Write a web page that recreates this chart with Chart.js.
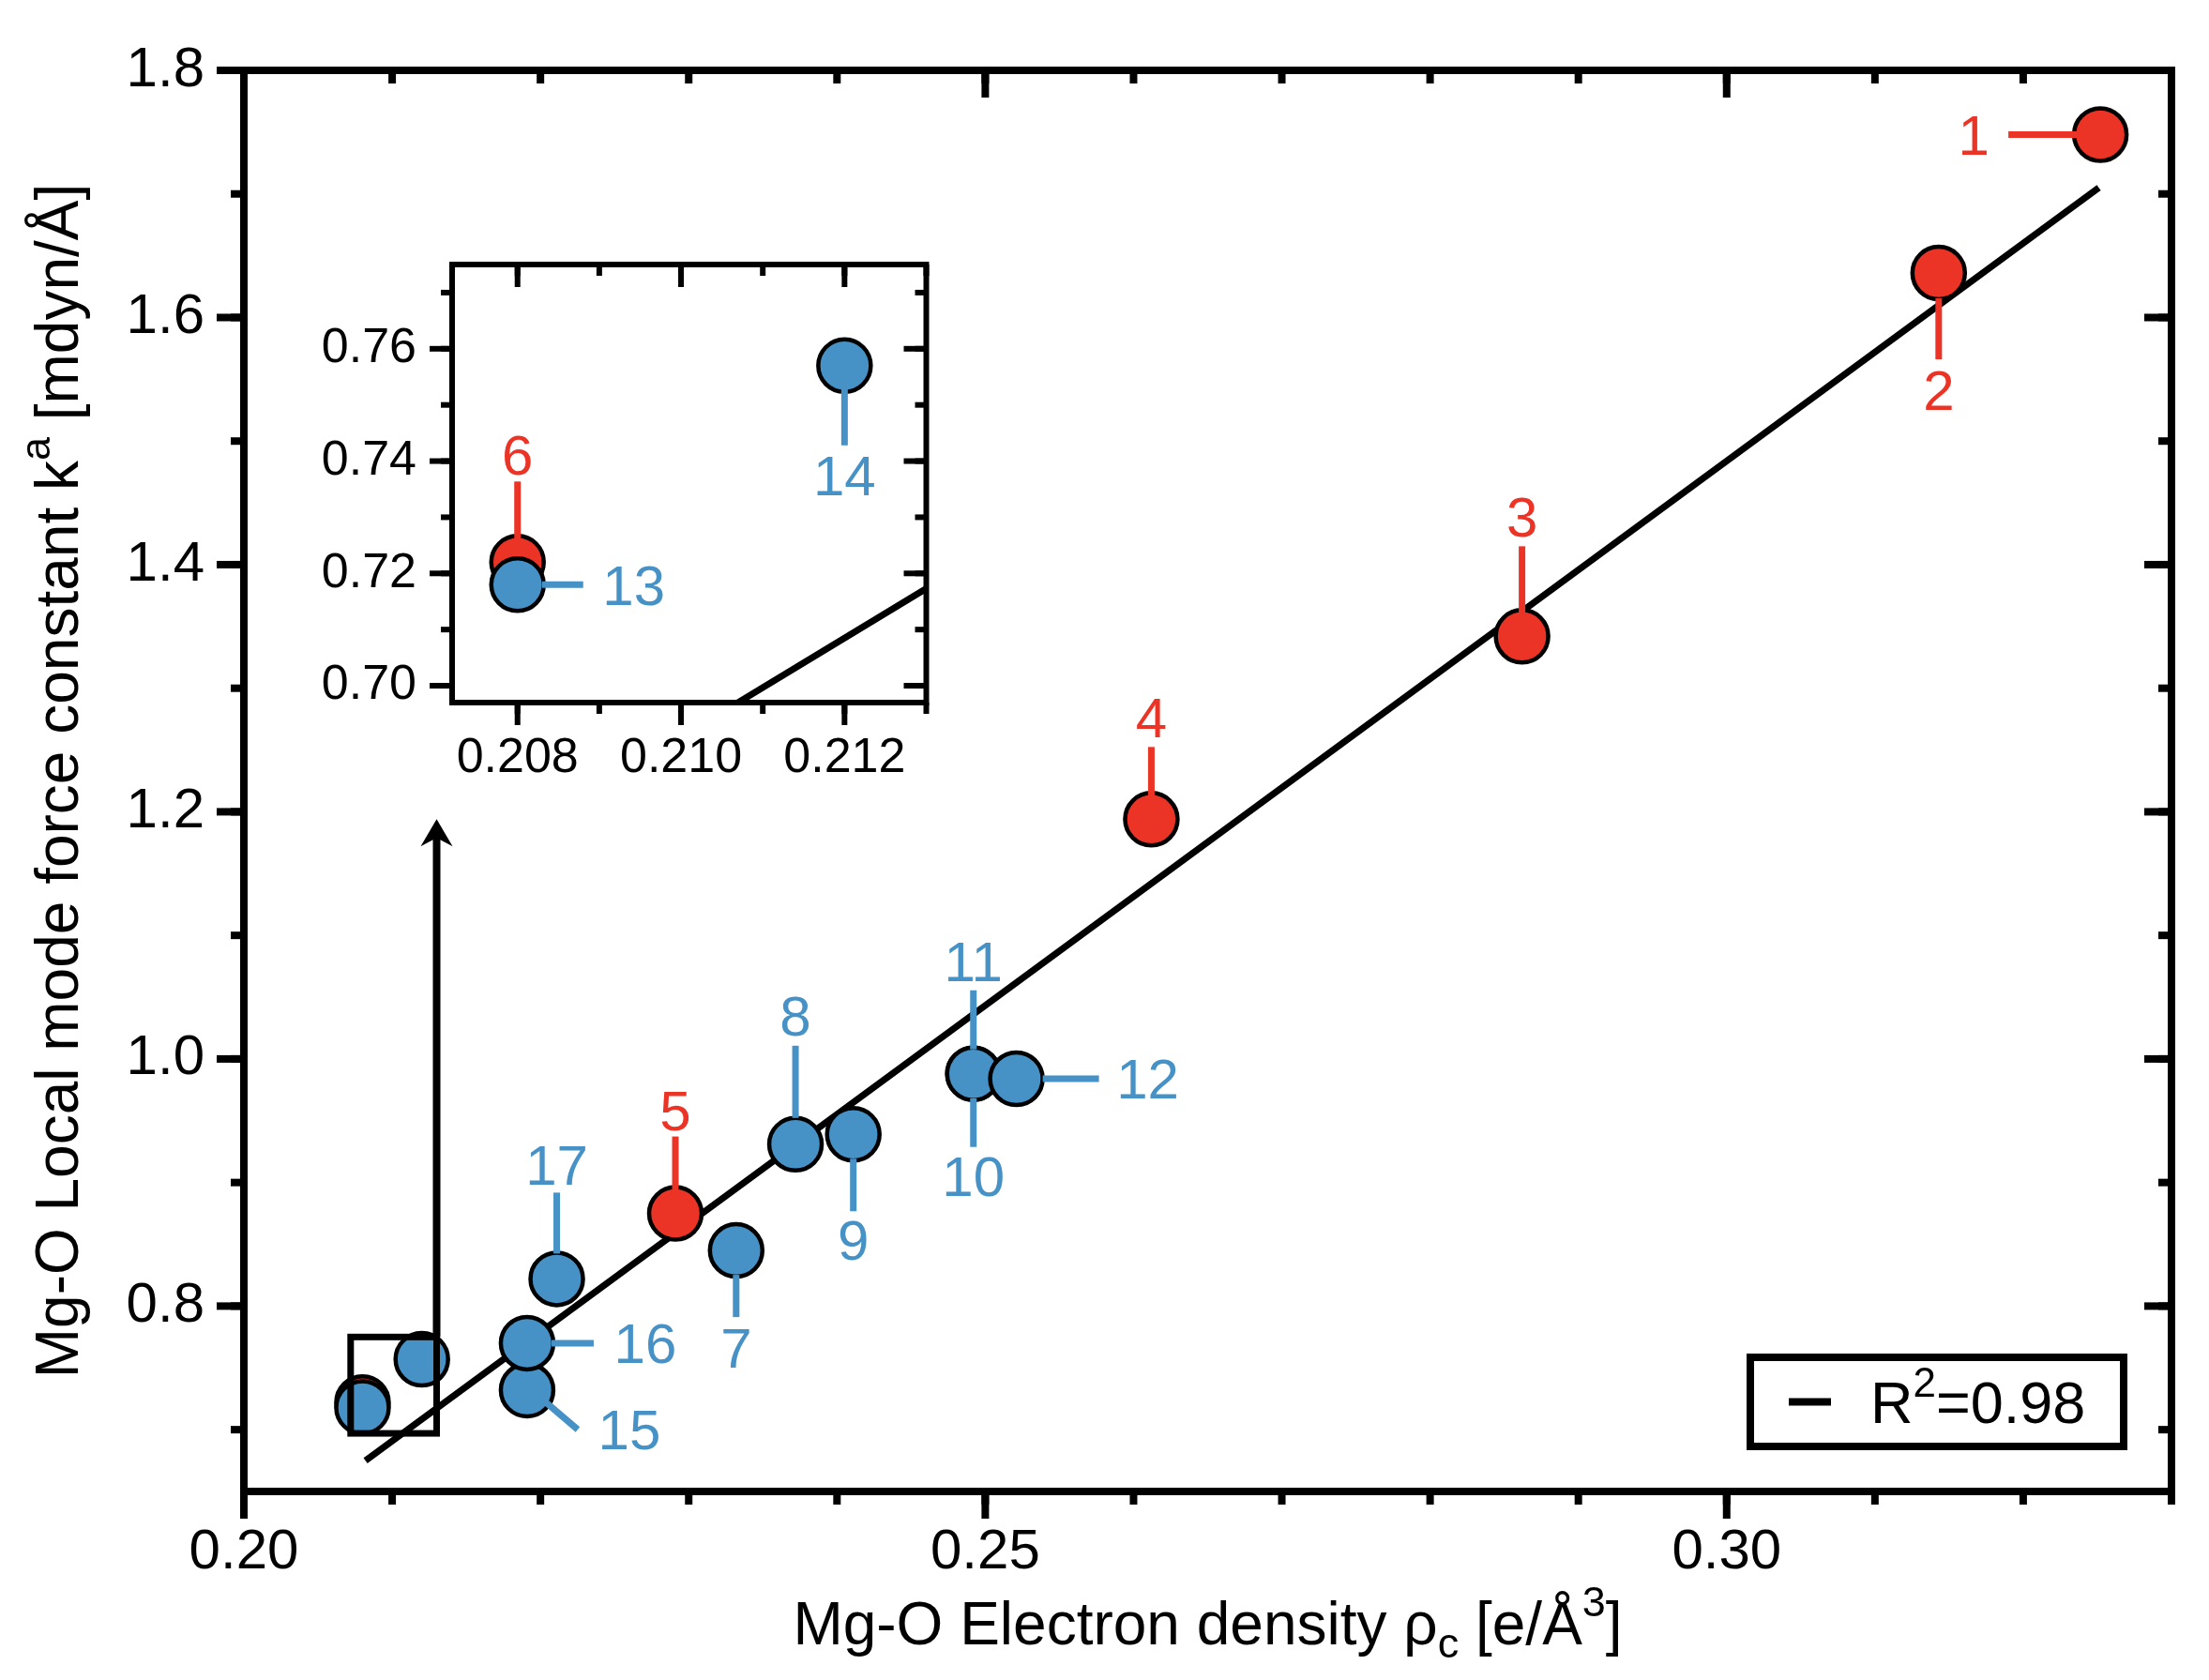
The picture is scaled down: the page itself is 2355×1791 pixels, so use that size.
<!DOCTYPE html>
<html><head><meta charset="utf-8">
<script src="https://cdn.jsdelivr.net/npm/chart.js@4"></script>
<style>
html,body{margin:0;padding:0;background:#fff;overflow:hidden}
#wrap{position:relative;width:2355px;height:1791px;background:#fff}
#main{position:absolute;left:0;top:0}
#inset{position:absolute;left:300px;top:200px}
</style></head><body>
<div id="wrap"><canvas id="main" width="2355" height="1791"></canvas><canvas id="inset" width="720" height="640"></canvas></div>
<script>
const FONT = '"Liberation Sans", Arial, Helvetica, sans-serif';
const RED = '#EB3326', BLUE = '#4691C5';

// ---- data ----
const redIds = ['1','2','3','4','5','6'];
const redX = [0.3252, 0.3143, 0.2862, 0.2612, 0.2291, 0.2080];
const redY = [1.748, 1.636, 1.342, 1.194, 0.875, 0.722];
const blueIds = ['7','8','9','10','11','12','13','14','15','16','17'];
const blueX = [0.2332, 0.2372, 0.2411, 0.2492, 0.2492, 0.2521, 0.2080, 0.2120, 0.2191, 0.2191, 0.2211];
const blueY = [0.845, 0.931, 0.939, 0.988, 0.988, 0.984, 0.718, 0.757, 0.732, 0.770, 0.822];
const fitX = [0.2082, 0.3251];
const fitY = [0.675, 1.705];
const legendParts = ['R', '2', '=0.98'];

const xRange = [0.20, 0.33], yRange = [0.65, 1.80];
const xTicks = [0.20, 0.25, 0.30], xTickLabels = ['0.20', '0.25', '0.30'];
const yTicks = [0.8, 1.0, 1.2, 1.4, 1.6, 1.8], yTickLabels = ['0.8', '1.0', '1.2', '1.4', '1.6', '1.8'];
const xMinorStep = 0.01, yMinorStep = 0.1;

const insetXRange = [0.2072, 0.2130], insetYRange = [0.697, 0.775];
const insetXTicks = [0.208, 0.210, 0.212], insetXTickLabels = ['0.208', '0.210', '0.212'];
const insetYTicks = [0.70, 0.72, 0.74, 0.76], insetYTickLabels = ['0.70', '0.72', '0.74', '0.76'];
const insetXMinorStep = 0.001, insetYMinorStep = 0.01;
const arrowTipY = 1.194;

// ---- label layout (pixel offsets from marker centre: leader x1,y1,x2,y2, label x,y) ----
const mainLayout = {
  '1': [-22,0,-98,0,-135,0],
  '2': [0,27,0,92,0,124],
  '3': [0,-25,0,-96,0,-128],
  '4': [0,-23,0,-77,0,-109],
  '5': [0,-24,0,-82,0,-110],
  '7': [0,26,0,71,0,103],
  '8': [0,-28,0,-105,0,-137],
  '9': [0,26,0,82,0,112],
  '10': [0,26,0,78,0,109],
  '11': [0,-26,0,-89,0,-120],
  '12': [28,0,88,0,140,0],
  '15': [20,13,54,42,109,42],
  '16': [26,0,71,0,126,0],
  '17': [0,-27,0,-92,0,-122]
};
const insetLayout = {
  '6': [0,-23,0,-86,0,-115],
  '13': [26,0,70,0,124,0],
  '14': [0,25,0,85,0,117]
};

function pts(xs, ys) { return xs.map((v, i) => ({x: v, y: ys[i]})); }
function range(min, max, step) {
  const out = [];
  const a = Math.ceil(min / step - 1e-6), b = Math.floor(max / step + 1e-6);
  for (let i = a; i <= b; i++) out.push(i * step);
  return out;
}

function datasets(r) {
  return [
    {data: pts(blueX, blueY), backgroundColor: BLUE, borderColor: '#000', pointRadius: r, pointBorderWidth: 4.5, borderWidth: 4.5, order: 1},
    {data: pts(redX, redY), backgroundColor: RED, borderColor: '#000', pointRadius: r, pointBorderWidth: 4.5, borderWidth: 4.5, order: 2},
    {data: pts(fitX, fitY), showLine: true, borderColor: '#000', borderWidth: 7, pointRadius: 0, borderCapStyle: 'butt', order: 3}
  ];
}

function labelsPlugin(layout, size, lw) {
  return {
    id: 'ptLabels',
    afterDatasetsDraw(chart) {
      const {ctx, scales: {x, y}} = chart;
      ctx.save();
      const groups = [[redIds, redX, redY, RED], [blueIds, blueX, blueY, BLUE]];
      groups.forEach(([ids, xs, ys, col]) => {
        ids.forEach((id, i) => {
          const L = layout[id];
          if (!L) return;
          const px = x.getPixelForValue(xs[i]), py = y.getPixelForValue(ys[i]);
          ctx.strokeStyle = col; ctx.fillStyle = col; ctx.lineWidth = lw; ctx.lineCap = 'butt';
          ctx.beginPath(); ctx.moveTo(px + L[0], py + L[1]); ctx.lineTo(px + L[2], py + L[3]); ctx.stroke();
          ctx.font = size + 'px ' + FONT; ctx.textAlign = 'center'; ctx.textBaseline = 'alphabetic';
          ctx.fillText(id, px + L[4], py + L[5] + 0.358 * size);
        });
      });
      ctx.restore();
    }
  };
}

function frameTicksPlugin(cfg) {
  return {
    id: 'frameTicks',
    afterDatasetsDraw(chart) {
      const {ctx, chartArea: a, scales: {x, y}} = chart;
      ctx.save();
      ctx.strokeStyle = '#000'; ctx.lineCap = 'butt'; ctx.lineWidth = cfg.tickWidth;
      const seg = (x1, y1, x2, y2) => { ctx.beginPath(); ctx.moveTo(x1, y1); ctx.lineTo(x2, y2); ctx.stroke(); };
      const xt = (vals, L) => vals.forEach(v => { const p = x.getPixelForValue(v); seg(p, a.bottom, p, a.bottom + L); seg(p, a.top, p, a.top + L); });
      const yt = (vals, L) => vals.forEach(v => { const p = y.getPixelForValue(v); seg(a.left, p, a.left - L, p); seg(a.right, p, a.right - L, p); });
      xt(range(cfg.xr[0], cfg.xr[1], cfg.xStep), cfg.minor);
      yt(range(cfg.yr[0], cfg.yr[1], cfg.yStep), cfg.minor);
      xt(cfg.xMajor, cfg.major);
      yt(cfg.yMajor, cfg.major);
      ctx.lineWidth = cfg.frameWidth; ctx.lineJoin = 'miter';
      ctx.strokeRect(a.left, a.top, a.right - a.left, a.bottom - a.top);
      ctx.restore();
    }
  };
}

function drawRich(ctx, parts, cx, baseY) {
  let total = 0;
  parts.forEach(p => { ctx.font = p.s + 'px ' + FONT; p.w = ctx.measureText(p.t).width; total += p.w; });
  let xx = cx - total / 2;
  ctx.textAlign = 'left'; ctx.textBaseline = 'alphabetic';
  parts.forEach(p => { ctx.font = p.s + 'px ' + FONT; ctx.fillText(p.t, xx, baseY + (p.dy || 0)); xx += p.w; });
}

const boxArrowPlugin = {
  id: 'boxArrow',
  afterDatasetsDraw(chart) {
    const {ctx, scales: {x, y}} = chart;
    ctx.save();
    ctx.strokeStyle = '#000'; ctx.fillStyle = '#000';
    const x0 = x.getPixelForValue(insetXRange[0]), x1 = x.getPixelForValue(insetXRange[1]);
    const yT = y.getPixelForValue(insetYRange[1]), yB = y.getPixelForValue(insetYRange[0]);
    ctx.lineWidth = 7; ctx.lineJoin = 'miter';
    ctx.strokeRect(x0, yT, x1 - x0, yB - yT);
    const tip = y.getPixelForValue(arrowTipY);
    ctx.lineWidth = 8; ctx.lineCap = 'butt';
    ctx.beginPath(); ctx.moveTo(x1, yT); ctx.lineTo(x1, tip + 18); ctx.stroke();
    ctx.beginPath(); ctx.moveTo(x1, tip); ctx.lineTo(x1 + 17, tip + 29); ctx.lineTo(x1, tip + 20); ctx.lineTo(x1 - 17, tip + 29); ctx.closePath(); ctx.fill();
    ctx.restore();
  }
};

const titlesLegendPlugin = {
  id: 'titlesLegend',
  afterDraw(chart) {
    const {ctx, chartArea: a} = chart;
    ctx.save();
    ctx.fillStyle = '#000';
    // x title
    drawRich(ctx, [
      {t: 'Mg-O Electron density \u03C1', s: 64},
      {t: 'c', s: 45, dy: 14},
      {t: ' [e/\u00C5', s: 64},
      {t: '3', s: 45, dy: -30},
      {t: ']', s: 64}
    ], (a.left + a.right) / 2, 1753);
    // y title
    ctx.save();
    ctx.translate(83, (a.top + a.bottom) / 2);
    ctx.rotate(-Math.PI / 2);
    drawRich(ctx, [
      {t: 'Mg-O Local mode force constant k', s: 64},
      {t: 'a', s: 45, dy: -30},
      {t: ' [mdyn/\u00C5]', s: 64}
    ], 0, 0);
    ctx.restore();
    // legend
    const bl = a.right - 449, br = a.right - 51, bt = a.bottom - 143, bb = a.bottom - 48;
    ctx.strokeStyle = '#000'; ctx.lineWidth = 8; ctx.lineJoin = 'miter';
    ctx.strokeRect(bl, bt, br - bl, bb - bt);
    const cy = (bt + bb) / 2;
    ctx.lineWidth = 8; ctx.lineCap = 'butt';
    ctx.beginPath(); ctx.moveTo(bl + 41, cy); ctx.lineTo(bl + 86, cy); ctx.stroke();
    ctx.textAlign = 'left'; ctx.textBaseline = 'alphabetic';
    let xx = bl + 128;
    ctx.font = '63px ' + FONT; ctx.fillText(legendParts[0], xx, cy + 22); xx += ctx.measureText(legendParts[0]).width;
    ctx.font = '44px ' + FONT; ctx.fillText(legendParts[1], xx, cy - 6); xx += ctx.measureText(legendParts[1]).width;
    ctx.font = '63px ' + FONT; ctx.fillText(legendParts[2], xx, cy + 22);
    ctx.restore();
  }
};

Chart.defaults.font.family = FONT;
Chart.defaults.color = '#000';

function axis(rangeArr, tickVals, tickLabels, size, pad, fitFn) {
  return {
    type: 'linear', min: rangeArr[0], max: rangeArr[1],
    grid: {display: false, drawTicks: false}, border: {display: false},
    afterBuildTicks: s => { s.ticks = tickVals.map(v => ({value: v})); },
    afterFit: fitFn,
    ticks: {callback: (v, i) => tickLabels[i], font: {size: size, family: FONT, lineHeight: 1}, color: '#000', padding: pad, autoSkip: false, maxRotation: 0, minRotation: 0, includeBounds: false}
  };
}

new Chart(document.getElementById('main'), {
  type: 'scatter',
  data: {datasets: datasets(28)},
  options: {
    responsive: false, animation: false, devicePixelRatio: 1, events: [],
    layout: {padding: {top: 75, right: 40, left: 0, bottom: 0}},
    plugins: {legend: {display: false}, tooltip: {enabled: false}},
    scales: {
      x: axis(xRange, xTicks, xTickLabels, 60, 35, s => { s.height = 201; }),
      y: axis(yRange, yTicks, yTickLabels, 60, 42, s => { s.width = 260; })
    }
  },
  plugins: [labelsPlugin(mainLayout, 60, 7), boxArrowPlugin,
    frameTicksPlugin({xr: xRange, yr: yRange, xStep: xMinorStep, yStep: yMinorStep, xMajor: xTicks, yMajor: yTicks, major: 29, minor: 14, tickWidth: 8, frameWidth: 8}),
    titlesLegendPlugin]
});

new Chart(document.getElementById('inset'), {
  type: 'scatter',
  data: {datasets: datasets(28)},
  options: {
    responsive: false, animation: false, devicePixelRatio: 1, events: [],
    layout: {padding: {top: 82, right: 30.5, left: 0, bottom: 0}},
    plugins: {legend: {display: false}, tooltip: {enabled: false}},
    scales: {
      x: axis(insetXRange, insetXTicks, insetXTickLabels, 52, 34, s => { s.height = 91; }),
      y: axis(insetYRange, insetYTicks, insetYTickLabels, 52, 38, s => { s.width = 182; })
    }
  },
  plugins: [labelsPlugin(insetLayout, 60, 7),
    frameTicksPlugin({xr: insetXRange, yr: insetYRange, xStep: insetXMinorStep, yStep: insetYMinorStep, xMajor: insetXTicks, yMajor: insetYTicks, major: 24, minor: 12, tickWidth: 6, frameWidth: 6})]
});
</script>
</body></html>
